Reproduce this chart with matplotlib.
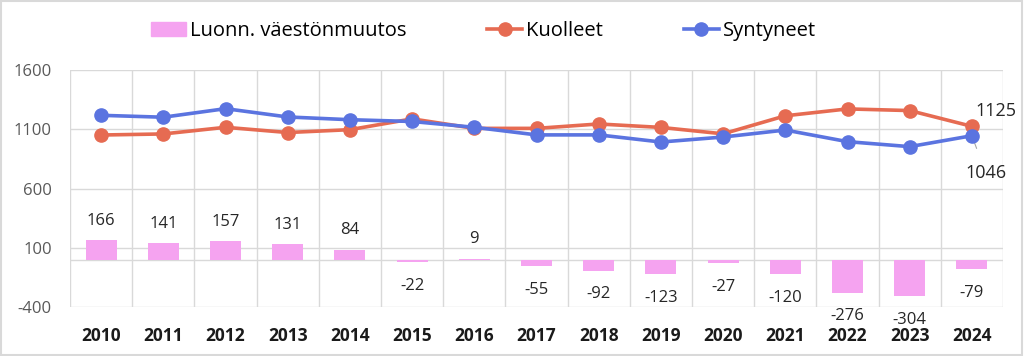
import matplotlib.pyplot as plt
from matplotlib.patches import Rectangle
from matplotlib.lines import Line2D

plt.rcParams['font.family'] = ['Open Sans', 'DejaVu Sans']

# data
years = ['2010', '2011', '2012', '2013', '2014', '2015', '2016', '2017',
         '2018', '2019', '2020', '2021', '2022', '2023', '2024']
muutos = [166, 141, 157, 131, 84, -22, 9, -55, -92, -123, -27, -120, -276, -304, -79]
kuolleet = [1052, 1061, 1117, 1073, 1097, 1188, 1108, 1108, 1145, 1116, 1062, 1214, 1272, 1258, 1125]
syntyneet = [1218, 1202, 1274, 1204, 1181, 1166, 1117, 1053, 1053, 993, 1035, 1094, 996, 954, 1046]
yticks = [-400, 100, 600, 1100, 1600]

pink = '#F5A3F0'
red = '#E66B52'
blue = '#5B74E0'
grid = '#D9D9D9'

fig = plt.figure(figsize=(10.24, 3.56), dpi=100)
ax = fig.add_axes([0.0684, 0.1368, 0.9111, 0.6666])

x = list(range(len(years)))
ax.bar(x, muutos, 0.5, color=pink, zorder=2)
ax.plot(x, kuolleet, color=red, lw=2.6, marker='o', ms=9.5, zorder=3)
ax.plot(x, syntyneet, color=blue, lw=2.6, marker='o', ms=9.5, zorder=4)

# bar labels
for i, v in enumerate(muutos):
    dy = 14 if v >= 0 else -17
    ax.annotate(str(v), (i, v), xytext=(0, dy), textcoords='offset points',
                ha='center', va='center', fontsize=12, color='#262626',
                annotation_clip=False)

# line end labels
ax.annotate(str(kuolleet[-1]), (14, kuolleet[-1]), xytext=(17, 11),
            textcoords='offset points', ha='center', va='center',
            fontsize=13, color='#262626', annotation_clip=False)
ax.annotate(str(syntyneet[-1]), (14, syntyneet[-1]), xytext=(10, -27),
            textcoords='offset points', ha='center', va='center',
            fontsize=13, color='#262626', annotation_clip=False,
            arrowprops=dict(arrowstyle='-', color='#A6A6A6', lw=0.8,
                            shrinkA=10, shrinkB=0))

ax.set_xlim(-0.5, len(years) - 0.5)
ax.set_ylim(-400, 1600)
ax.set_yticks(yticks)
ax.set_yticklabels([str(t) for t in yticks], fontsize=12, color='#595959')
ax.set_xticks(x)
ax.set_xticklabels(years, fontsize=12.5, fontweight='bold', color='#1a1a1a')
ax.tick_params(axis='both', length=0)
ax.tick_params(axis='x', pad=14)
ax.tick_params(axis='y', pad=13)

for t in yticks:
    ax.axhline(t, color=grid, lw=1, zorder=0)
ax.axhline(0, color=grid, lw=1, zorder=1)
for b in range(len(years) + 1):
    ax.axvline(b - 0.5, color=grid, lw=1, zorder=0)
for s in ax.spines.values():
    s.set_visible(False)

handles = [Rectangle((0, 0), 1, 1, color=pink),
           Line2D([], [], color=red, lw=2.6, marker='o', ms=9.5),
           Line2D([], [], color=blue, lw=2.6, marker='o', ms=9.5)]
fig.legend(handles, ['Luonn. väestönmuutos', 'Kuolleet', 'Syntyneet'],
           loc='center', bbox_to_anchor=(0.472, 0.913), ncol=3, frameon=False,
           fontsize=14.5, handlelength=1.75, handleheight=0.65, handletextpad=0.2,
           columnspacing=4.0)

fig.patches.append(Rectangle((0.001, 0.002), 0.997, 0.995, transform=fig.transFigure,
                             fill=False, edgecolor=grid, lw=1.5))

fig.savefig('out.png', dpi=100)
